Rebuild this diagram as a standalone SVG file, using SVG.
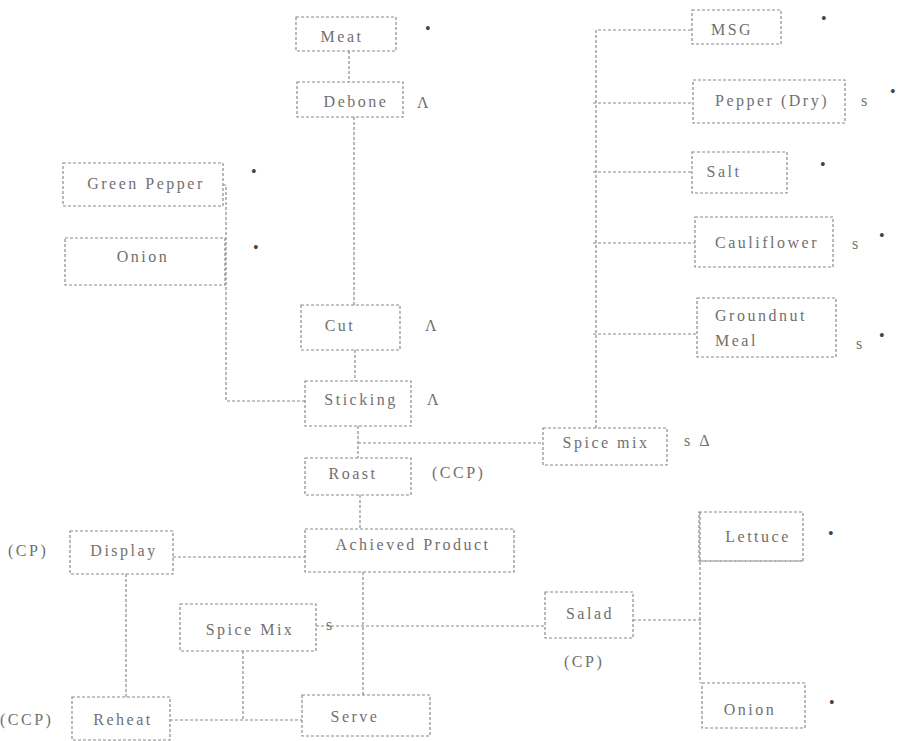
<svg xmlns="http://www.w3.org/2000/svg" width="899" height="741" viewBox="0 0 899 741">
<style>
.b{fill:none;stroke:#8a8a8a;stroke-width:1.2;stroke-dasharray:3,2}
.c{fill:none;stroke:#8a8a8a;stroke-width:1.2;stroke-dasharray:3,2}
text{font-family:"Liberation Serif",serif;font-size:16px;letter-spacing:2.5px;fill:#707070}
.m{text-anchor:middle}
.d{fill:#444;letter-spacing:0}
</style>
<rect width="899" height="741" fill="#fff"/>
<g id="connectors">
<path class="c" d="M349 51V82"/>
<path class="c" d="M354 117V305"/>
<path class="c" d="M223 185H226V401H305"/>
<path class="c" d="M355 350V381"/>
<path class="c" d="M358 426V458"/>
<path class="c" d="M358 443H543"/>
<path class="c" d="M596 428V30H692"/>
<path class="c" d="M593 103H693"/>
<path class="c" d="M593 172H692"/>
<path class="c" d="M593 243H695"/>
<path class="c" d="M593 334H697"/>
<path class="c" d="M360 495V529"/>
<path class="c" d="M173 557H305"/>
<path class="c" d="M363 572V695"/>
<path class="c" d="M126 574V697"/>
<path class="c" d="M316 626H545"/>
<path class="c" d="M243 651V720"/>
<path class="c" d="M170 720H302"/>
<path class="c" d="M633 620H701"/>
<path class="c" d="M700 512V683"/>
<path class="c" d="M700 561H803"/>
</g>
<g id="meat"><rect class="b" x="296" y="17" width="100" height="34"/><text class="m" x="342" y="42">Meat</text></g>
<g id="debone"><rect class="b" x="297" y="82" width="106" height="35"/><text class="m" x="356" y="107">Debone</text></g>
<g id="greenpepper"><rect class="b" x="63" y="163" width="160" height="43"/><text class="m" x="146" y="189">Green Pepper</text></g>
<g id="onion1"><rect class="b" x="65" y="238" width="160" height="47"/><text class="m" x="143" y="262">Onion</text></g>
<g id="cut"><rect class="b" x="301" y="305" width="99" height="45"/><text class="m" x="340" y="331">Cut</text></g>
<g id="sticking"><rect class="b" x="305" y="381" width="106" height="45"/><text class="m" x="361" y="405">Sticking</text></g>
<g id="roast"><rect class="b" x="305" y="458" width="106" height="37"/><text class="m" x="353" y="479">Roast</text></g>
<g id="spicemix1"><rect class="b" x="543" y="428" width="124" height="37"/><text class="m" x="606" y="448">Spice mix</text></g>
<g id="msg"><rect class="b" x="692" y="10" width="89" height="34"/><text class="m" x="732" y="35">MSG</text></g>
<g id="pepperdry"><rect class="b" x="693" y="80" width="152" height="43"/><text class="m" x="772" y="106">Pepper (Dry)</text></g>
<g id="salt"><rect class="b" x="692" y="152" width="95" height="41"/><text class="m" x="724" y="177">Salt</text></g>
<g id="cauliflower"><rect class="b" x="695" y="217" width="138" height="50"/><text class="m" x="767" y="248">Cauliflower</text></g>
<g id="groundnut"><rect class="b" x="697" y="298" width="139" height="59"/><text x="715" y="321">Groundnut</text><text x="715" y="346">Meal</text></g>
<g id="achieved"><rect class="b" x="305" y="529" width="209" height="43"/><text class="m" x="413" y="550">Achieved Product</text></g>
<g id="display"><rect class="b" x="70" y="531" width="103" height="43"/><text class="m" x="124" y="556">Display</text></g>
<g id="spicemix2"><rect class="b" x="180" y="604" width="136" height="47"/><text class="m" x="250" y="635">Spice Mix</text></g>
<g id="salad"><rect class="b" x="545" y="592" width="88" height="46"/><text class="m" x="590" y="619">Salad</text></g>
<g id="lettuce"><rect class="b" x="699" y="512" width="104" height="49"/><text class="m" x="758" y="542">Lettuce</text></g>
<g id="onion2"><rect class="b" x="702" y="683" width="103" height="45"/><text class="m" x="750" y="715">Onion</text></g>
<g id="reheat"><rect class="b" x="72" y="697" width="98" height="43"/><text class="m" x="123" y="725">Reheat</text></g>
<g id="serve"><rect class="b" x="302" y="695" width="128" height="41"/><text class="m" x="355" y="722">Serve</text></g>
<g id="labels">
<text class="d" x="425" y="34">•</text>
<text x="417" y="108">Λ</text>
<text class="d" x="251" y="177">•</text>
<text class="d" x="253" y="253">•</text>
<text x="425" y="331">Λ</text>
<text x="427" y="405">Λ</text>
<text x="432" y="478">(CCP)</text>
<text x="684" y="446">s Δ</text>
<text class="d" x="821" y="24">•</text>
<text x="861" y="106">s</text>
<text class="d" x="890" y="97">•</text>
<text class="d" x="820" y="170">•</text>
<text x="852" y="249">s</text>
<text class="d" x="879" y="241">•</text>
<text x="856" y="349">s</text>
<text class="d" x="879" y="341">•</text>
<text x="8" y="556">(CP)</text>
<text x="326" y="630">s</text>
<text x="564" y="667">(CP)</text>
<text class="d" x="828" y="539">•</text>
<text class="d" x="829" y="708">•</text>
<text x="0" y="725">(CCP)</text>
</g>
</svg>
